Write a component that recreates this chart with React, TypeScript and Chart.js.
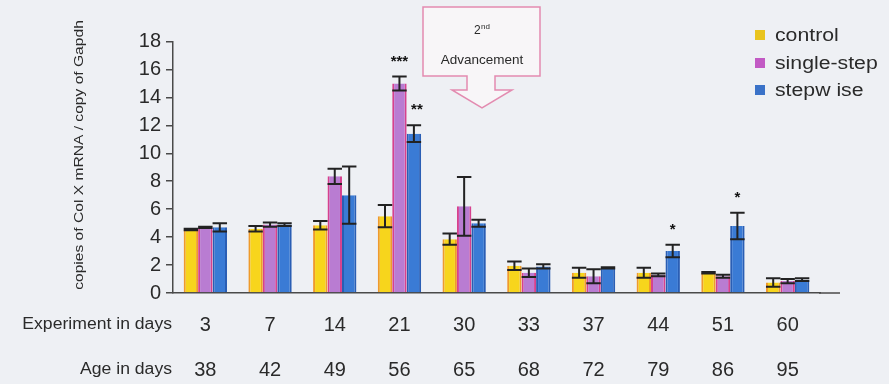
import { useEffect, useRef } from "react";
import { Chart, registerables } from "chart.js";

Chart.register(...registerables);

// ---- data ----
const experimentDays = ["3", "7", "14", "21", "30", "33", "37", "44", "51", "60"];
const ageDays = ["38", "42", "49", "56", "65", "68", "72", "79", "86", "95"];
const seriesNames = ["control", "single-step", "stepw ise"];

const controlValues = [4.55, 4.6, 4.85, 5.5, 3.85, 1.95, 1.45, 1.45, 1.45, 0.75];
const controlErrors = [0.05, 0.2, 0.3, 0.8, 0.4, 0.3, 0.35, 0.35, 0.05, 0.3];

const singleStepValues = [4.7, 4.9, 8.35, 15.0, 6.2, 1.45, 1.2, 1.3, 1.2, 0.85];
const singleStepErrors = [0.05, 0.15, 0.55, 0.5, 2.1, 0.3, 0.5, 0.1, 0.1, 0.15];

const stepwiseValues = [4.7, 4.9, 7.0, 11.4, 5.0, 1.9, 1.8, 3.0, 4.8, 0.95];
const stepwiseErrors = [0.3, 0.1, 2.05, 0.6, 0.25, 0.15, 0.05, 0.45, 0.95, 0.1];

const controlSig = ["", "", "", "", "", "", "", "", "", ""];
const singleStepSig = ["", "", "", "***", "", "", "", "", "", ""];
const stepwiseSig = ["", "", "", "**", "", "", "", "*", "*", ""];

const yMin = 0;
const yMax = 18;
const yStep = 2;

// ---- styles ----
const FONT = "'Liberation Sans', Arial, Helvetica, sans-serif";
const BG = "#eef0f4";
const AXIS = "#4a4a4a";
const TEXT = "#2a2a2a";
const fills = ["#f7d51c", "#b97cd2", "#3a7bd5"];
const borders = ["#ef9a2c", "#d6418e", "#2a5eb4"];
const legendColors = ["#e9c41e", "#c25ac4", "#3a72c8"];

const errorsByDataset = [controlErrors, singleStepErrors, stepwiseErrors];
const valuesByDataset = [controlValues, singleStepValues, stepwiseValues];
const sigByDataset = [controlSig, singleStepSig, stepwiseSig];

function stretchedText(
  ctx: CanvasRenderingContext2D,
  text: string,
  x: number,
  y: number,
  sx: number,
  align: CanvasTextAlign
) {
  ctx.save();
  ctx.translate(x, y);
  ctx.scale(sx, 1);
  ctx.textAlign = align;
  ctx.fillText(text, 0, 0);
  ctx.restore();
}

const decorPlugin = {
  id: "decor",
  beforeDraw(chart: any) {
    const ctx = chart.ctx as CanvasRenderingContext2D;
    ctx.save();
    ctx.fillStyle = BG;
    ctx.fillRect(0, 0, chart.width, chart.height);
    ctx.restore();
  },
  afterDatasetsDraw(chart: any) {
    const ctx = chart.ctx as CanvasRenderingContext2D;
    const yScale = chart.scales.y;
    ctx.save();
    for (let d = 0; d < valuesByDataset.length; d++) {
      const meta = chart.getDatasetMeta(d);
      const vals = valuesByDataset[d];
      const errs = errorsByDataset[d];
      const sigs = sigByDataset[d];
      meta.data.forEach((bar: any, i: number) => {
        const x = bar.x;
        const w = bar.width;
        const yHi = yScale.getPixelForValue(vals[i] + errs[i]);
        const yLo = yScale.getPixelForValue(Math.max(0, vals[i] - errs[i]));
        ctx.strokeStyle = "#222";
        ctx.lineWidth = 2;
        ctx.beginPath();
        ctx.moveTo(x, yHi);
        ctx.lineTo(x, yLo);
        ctx.moveTo(x - w / 2, yHi);
        ctx.lineTo(x + w / 2, yHi);
        ctx.moveTo(x - w / 2, yLo);
        ctx.lineTo(x + w / 2, yLo);
        ctx.stroke();
        if (sigs[i]) {
          ctx.fillStyle = "#111";
          ctx.font = `bold 15px ${FONT}`;
          ctx.textAlign = "center";
          ctx.textBaseline = "middle";
          ctx.fillText(sigs[i], x + (sigs[i] === "**" ? 3 : 0), yHi - 15);
        }
      });
    }
    ctx.restore();
  },
  afterDraw(chart: any) {
    const ctx = chart.ctx as CanvasRenderingContext2D;
    const area = chart.chartArea;
    ctx.save();

    // x-axis baseline extends a little beyond the last group
    ctx.strokeStyle = AXIS;
    ctx.lineWidth = 1.5;
    ctx.beginPath();
    ctx.moveTo(area.right - 1, area.bottom);
    ctx.lineTo(area.right + 20, area.bottom);
    ctx.stroke();

    // row titles for the category labels
    ctx.fillStyle = TEXT;
    ctx.textBaseline = "middle";
    ctx.font = `16px ${FONT}`;
    stretchedText(ctx, "Experiment in days", 172, 325, 1.1, "right");
    stretchedText(ctx, "Age in days", 172, 370, 1.1, "right");

    // y-axis title
    ctx.save();
    ctx.translate(79, 155);
    ctx.rotate(-Math.PI / 2);
    ctx.scale(1.2, 1);
    ctx.font = `13px ${FONT}`;
    ctx.textAlign = "center";
    ctx.textBaseline = "middle";
    ctx.fillText("copies of Col X mRNA / copy of Gapdh", 0, 0);
    ctx.restore();

    // legend
    const legendY = [35, 63, 90];
    seriesNames.forEach((name, i) => {
      ctx.fillStyle = legendColors[i];
      ctx.fillRect(755, legendY[i] - 5, 10, 10);
      ctx.fillStyle = TEXT;
      ctx.font = `18px ${FONT}`;
      ctx.textBaseline = "middle";
      stretchedText(ctx, name, 775, legendY[i] + 1, 1.18, "left");
    });

    // "2nd Advancement" callout arrow
    ctx.beginPath();
    ctx.moveTo(423, 7);
    ctx.lineTo(540, 7);
    ctx.lineTo(540, 76);
    ctx.lineTo(495, 76);
    ctx.lineTo(495, 90);
    ctx.lineTo(512, 90);
    ctx.lineTo(482, 108);
    ctx.lineTo(452, 90);
    ctx.lineTo(467, 90);
    ctx.lineTo(467, 76);
    ctx.lineTo(423, 76);
    ctx.closePath();
    ctx.fillStyle = "#f8f6f8";
    ctx.fill();
    ctx.strokeStyle = "#e38bb0";
    ctx.lineWidth = 1.5;
    ctx.stroke();

    ctx.fillStyle = TEXT;
    ctx.textBaseline = "middle";
    ctx.textAlign = "left";
    ctx.font = `12px ${FONT}`;
    ctx.fillText("2", 474, 31);
    ctx.font = `8px ${FONT}`;
    ctx.fillText("nd", 481, 27);
    ctx.font = `13.5px ${FONT}`;
    ctx.textAlign = "center";
    ctx.fillText("Advancement", 482, 60);

    ctx.restore();
  },
};

export default function App() {
  const canvasRef = useRef<HTMLCanvasElement | null>(null);

  useEffect(() => {
    const canvas = canvasRef.current;
    if (!canvas) return;
    const datasets = valuesByDataset.map((vals, i) => ({
      label: seriesNames[i],
      data: vals,
      backgroundColor: fills[i],
      borderColor: borders[i],
      borderWidth: { left: 2, right: 2, top: 0, bottom: 0 },
      borderSkipped: false as any,
      categoryPercentage: 0.67,
      barPercentage: 1.0,
    }));

    const chart = new Chart(canvas, {
      type: "bar",
      data: {
        labels: experimentDays.map((d, i) => [d, ageDays[i]]),
        datasets,
      },
      options: {
        responsive: false,
        animation: false,
        devicePixelRatio: 1,
        layout: { padding: { left: 0, right: 69, top: 41.5, bottom: 0 } },
        plugins: {
          legend: { display: false },
          tooltip: { enabled: false },
        },
        scales: {
          x: {
            type: "category",
            grid: { display: false, drawTicks: false },
            border: { display: true, color: AXIS, width: 1.5 },
            ticks: {
              autoSkip: false,
              maxRotation: 0,
              minRotation: 0,
              padding: 9.5,
              color: TEXT,
              font: { family: FONT, size: 20, lineHeight: 45 / 20 },
            },
            afterFit: (s: any) => {
              s.height = 91;
            },
          },
          y: {
            min: yMin,
            max: yMax,
            ticks: {
              stepSize: yStep,
              padding: 5,
              color: TEXT,
              font: { family: FONT, size: 20 },
            },
            grid: {
              display: true,
              drawOnChartArea: false,
              drawTicks: true,
              tickLength: 7,
              color: AXIS,
              lineWidth: 1.5,
            },
            border: { display: true, color: AXIS, width: 1.5 },
            afterFit: (s: any) => {
              s.width = 173;
            },
          },
        },
      },
      plugins: [decorPlugin],
    });
    return () => chart.destroy();
  }, []);

  return (
    <div
      style={{
        position: "fixed",
        left: 0,
        top: 0,
        width: 889,
        height: 384,
        background: BG,
      }}
    >
      <canvas ref={canvasRef} width={889} height={384} style={{ display: "block" }} />
    </div>
  );
}
